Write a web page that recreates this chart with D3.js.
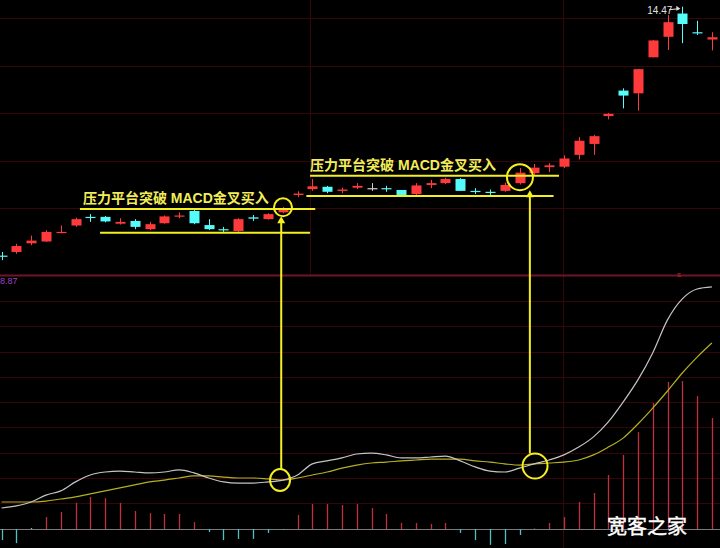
<!DOCTYPE html>
<html><head><meta charset="utf-8">
<script src="https://cdn.jsdelivr.net/npm/d3@7"></script>
<style>html,body{margin:0;padding:0;background:#000;overflow:hidden}</style>
</head><body><svg id="c" width="720" height="548"></svg>
<script>
// ---- data ----
const days = d3.range(1, 50).map(String);
const open  = [9.01,9.09,9.28,9.32,9.51,9.67,9.86,9.86,9.71,9.77,9.59,9.72,9.87,9.99,9.68,9.59,9.55,9.85,9.81,9.96,10.34,10.47,10.52,10.43,10.50,10.49,10.49,10.45,10.36,10.56,10.60,10.69,10.43,10.41,10.43,10.60,10.82,10.95,10.96,11.22,11.46,12.07,12.63,12.57,13.36,13.81,14.32,13.91,13.75];
const close = [8.99,9.22,9.34,9.53,9.53,9.81,9.84,9.76,9.75,9.64,9.70,9.87,9.89,9.72,9.59,9.57,9.81,9.82,9.92,10.03,10.37,10.53,10.41,10.46,10.54,10.49,10.47,10.34,10.55,10.60,10.69,10.43,10.42,10.40,10.56,10.83,10.94,10.99,11.14,11.53,11.63,12.12,12.52,13.10,13.73,14.13,14.09,13.89,13.80];
const high  = [9.09,9.27,9.45,9.57,9.67,9.84,9.92,9.88,9.83,9.81,9.75,9.89,9.96,10.01,9.81,9.64,9.83,9.90,9.94,10.08,10.42,10.69,10.54,10.50,10.60,10.60,10.54,10.45,10.60,10.67,10.72,10.71,10.49,10.46,10.61,10.93,11.02,11.04,11.21,11.61,11.66,12.14,12.68,13.10,13.74,14.29,14.47,14.16,13.91];
const low   = [8.91,9.05,9.24,9.31,9.50,9.64,9.75,9.74,9.69,9.59,9.57,9.71,9.83,9.70,9.57,9.53,9.53,9.77,9.80,9.94,10.29,10.43,10.38,10.38,10.47,10.43,10.41,10.34,10.34,10.49,10.58,10.43,10.36,10.34,10.41,10.57,10.78,10.84,10.93,11.12,11.22,12.00,12.24,12.19,13.36,13.52,13.67,13.85,13.51];
const dif   = [0.070,0.077,0.090,0.113,0.127,0.157,0.180,0.190,0.193,0.190,0.187,0.190,0.197,0.187,0.170,0.157,0.153,0.153,0.157,0.163,0.180,0.217,0.227,0.237,0.250,0.253,0.247,0.237,0.237,0.240,0.243,0.227,0.207,0.193,0.190,0.203,0.217,0.230,0.247,0.273,0.307,0.357,0.423,0.497,0.587,0.697,0.767,0.800,0.807];
const dea   = [0.090,0.090,0.090,0.093,0.100,0.107,0.117,0.127,0.137,0.147,0.157,0.163,0.170,0.177,0.177,0.173,0.170,0.170,0.167,0.163,0.170,0.180,0.190,0.203,0.213,0.220,0.223,0.227,0.230,0.233,0.233,0.233,0.227,0.223,0.217,0.213,0.217,0.220,0.223,0.230,0.247,0.273,0.303,0.350,0.403,0.460,0.520,0.573,0.620];
const macd  = [-0.037,-0.047,0.000,0.040,0.057,0.087,0.107,0.103,0.087,0.060,0.053,0.050,0.050,0.023,-0.010,-0.037,-0.033,-0.033,-0.013,-0.003,0.047,0.083,0.083,0.080,0.083,0.070,0.050,0.020,0.020,0.017,0.020,-0.013,-0.037,-0.053,-0.050,-0.020,0.002,0.020,0.040,0.090,0.120,0.180,0.247,0.323,0.420,0.490,0.493,0.443,0.370];
const highLabel = "14.47";
const lowLabel = "8.87";
const noteText = "压力平台突破 MACD金叉买入";
const watermark = "宽客之家";
// annotations (candle index, price / macd value)
const platformFrom  = [5.3, 6.66, 20.85, 20.6];
const platformTo    = [21.2, 20.85, 37.67, 37.3];
const platformPrice = [10.03, 9.51, 10.76, 10.32];
const noteAt    = [5.5, 20.85];
const notePrice = [10.16, 10.89];
const topCircleAt    = [19.02, 35.03];
const topCirclePrice = [10.07, 10.73];
const botCircleAt    = [18.82, 36.05];
const botCircleValue = [0.163, 0.21];
const arrowAt = [18.9, 35.7];

// ---- drawing ----
const W = 720, H = 548;
const svg = d3.select('#c');
svg.append('rect').attr('width', W).attr('height', H).attr('fill', '#000');

const x = d3.scalePoint().domain(days).range([1.5, 711.9]);
const xf = v => x.range()[0] + v * x.step();
const y = d3.scaleLinear().domain([8.87, 14.47]).range([262, 6.7]);
const ym = d3.scaleLinear().domain([0, 1]).range([529, 229]);

const grid = svg.append('g').attr('stroke', '#34060a').attr('stroke-width', 1);
[18.5, 66.5, 113.5, 161.5, 208.5].forEach(v => grid.append('line').attr('x1', 0).attr('x2', W).attr('y1', v).attr('y2', v));
[301.5, 326.5, 352.5, 377.5, 402.5, 427.5, 453.5, 478.5, 503.5].forEach(v => grid.append('line').attr('x1', 0).attr('x2', W).attr('y1', v).attr('y2', v));
grid.append('line').attr('x1', 310.5).attr('x2', 310.5).attr('y1', 0).attr('y2', 275);
grid.append('line').attr('x1', 563.5).attr('x2', 563.5).attr('y1', 0).attr('y2', H);

svg.append('line').attr('x1', 0).attr('x2', W).attr('y1', 275.5).attr('y2', 275.5).attr('stroke', '#701428').attr('stroke-width', 2);
svg.append('line').attr('x1', 0).attr('x2', W).attr('y1', 529.5).attr('y2', 529.5).attr('stroke', '#7a7a7a').attr('stroke-width', 1);

const RED = '#ff3a3a', CYAN = '#54fcfc', GRAY = '#d0d0d0';
const col = i => close[i] > open[i] ? RED : (close[i] < open[i] ? CYAN : GRAY);

// candles
const cg = svg.append('g');
days.forEach((d, i) => {
  const cx = Math.round(x(d)) + 0.5;
  cg.append('line').attr('x1', cx).attr('x2', cx).attr('y1', y(high[i])).attr('y2', y(low[i])).attr('stroke', col(i)).attr('stroke-width', 1);
  const top = y(Math.max(open[i], close[i])), bot = y(Math.min(open[i], close[i]));
  cg.append('rect').attr('x', cx - 5).attr('width', 10).attr('y', top).attr('height', Math.max(1.2, bot - top)).attr('fill', col(i));
});

// high label
const hx = x(days[46]), hy = y(14.47);
svg.append('text').attr('x', hx - 35).attr('y', hy + 7).attr('fill', '#e0e0e0').attr('font-size', 10).attr('font-family', 'Liberation Sans, Arial, sans-serif').text(highLabel);
svg.append('line').attr('x1', hx - 13).attr('x2', hx - 3).attr('y1', hy + 3).attr('y2', hy + 2).attr('stroke', '#e0e0e0');
svg.append('path').attr('d', `M${hx - 2},${hy + 2} l-4,-3 l0,5 z`).attr('fill', '#e0e0e0');

// low label
svg.append('text').attr('x', 0).attr('y', 284).attr('fill', '#a040c0').attr('font-size', 9).attr('font-family', 'Liberation Sans, Arial, sans-serif').text(lowLabel);
svg.append('text').attr('x', 677).attr('y', 277).attr('fill', '#c02030').attr('font-size', 8).attr('font-family', 'Liberation Sans, Arial, sans-serif').text('s');

// MACD histogram
const hg = svg.append('g');
days.forEach((d, i) => {
  const cx = Math.round(x(d)) + 0.5;
  const v = macd[i];
  hg.append('line').attr('x1', cx).attr('x2', cx).attr('y1', ym(0)).attr('y2', ym(v) + (v === 0 ? -1 : 0))
    .attr('stroke', v > 0 ? '#c0303c' : (v < 0 ? '#50c0c0' : '#aaaaaa')).attr('stroke-width', 1.3);
});

// DIF / DEA
const line = arr => d3.line().x((v, i) => x(days[i])).y(v => ym(v)).curve(d3.curveMonotoneX)(arr);
svg.append('path').attr('d', line(dea)).attr('fill', 'none').attr('stroke', '#b4b020').attr('stroke-width', 1.2);
svg.append('path').attr('d', line(dif)).attr('fill', 'none').attr('stroke', '#c4c4c4').attr('stroke-width', 1.2);

// annotations
const YEL = '#f4f020';
const ag = svg.append('g');
platformPrice.forEach((p, k) => {
  ag.append('line').attr('x1', xf(platformFrom[k])).attr('x2', xf(platformTo[k])).attr('y1', y(p)).attr('y2', y(p)).attr('stroke', YEL).attr('stroke-width', 2);
});
notePrice.forEach((p, k) => {
  ag.append('text').attr('x', xf(noteAt[k])).attr('y', y(p)).attr('fill', '#f2ee5a').attr('font-size', 14).attr('font-weight', 'bold')
    .attr('font-family', 'Liberation Sans, "Noto Sans CJK SC", sans-serif').text(noteText);
});
const topR = [9, 13], botRx = [10, 12.5], botRy = [11, 12.5];
topCircleAt.forEach((a, k) => {
  ag.append('ellipse').attr('cx', xf(a)).attr('cy', y(topCirclePrice[k])).attr('rx', topR[k]).attr('ry', topR[k]).attr('fill', 'none').attr('stroke', YEL).attr('stroke-width', 2);
  ag.append('ellipse').attr('cx', xf(botCircleAt[k])).attr('cy', ym(botCircleValue[k])).attr('rx', botRx[k]).attr('ry', botRy[k]).attr('fill', 'none').attr('stroke', YEL).attr('stroke-width', 2);
  const ax = xf(arrowAt[k]);
  const yTop = y(topCirclePrice[k]) + topR[k];
  const yBot = ym(botCircleValue[k]) - botRy[k];
  ag.append('line').attr('x1', ax).attr('x2', ax).attr('y1', yTop + 5).attr('y2', yBot).attr('stroke', YEL).attr('stroke-width', 2);
  ag.append('path').attr('d', `M${ax},${yTop} l-4,7 l8,0 z`).attr('fill', YEL);
});

// watermark
svg.append('text').attr('x', 607).attr('y', 534).attr('fill', '#ffffff').attr('font-size', 20)
  .attr('font-family', '"Noto Sans CJK SC", sans-serif').attr('stroke', '#ffffff').attr('stroke-width', 0.4).text(watermark);
</script>
</body></html>
